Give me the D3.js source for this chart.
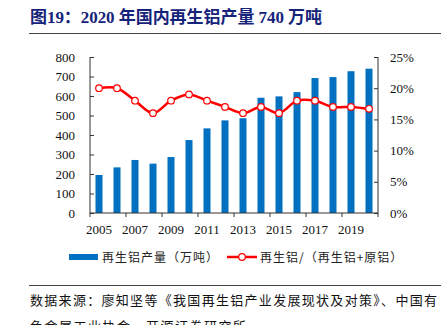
<!DOCTYPE html>
<html>
<head>
<meta charset="utf-8">
<script src="https://cdn.jsdelivr.net/npm/d3@7"></script>
<style>
  body { margin: 0; background: #fff; }
  svg { display: block; }
</style>
</head>
<body>
<svg width="446" height="325"></svg>
<script>
// yearly output of recycled aluminium (10k t) and its share of total aluminium (%)
const years = d3.range(2005, 2021);
const output = [195, 234, 272, 253, 287, 374, 434, 475, 486, 591, 598, 620, 692, 697, 727, 740];
const share = [20, 20, 18, 16, 18, 19, 18, 17, 16, 17, 16, 18, 18, 17, 17, 16.7];
const leftTicks = d3.range(0, 801, 100);
const rightTicks = [0, 5, 10, 15, 20, 25];
const labelYears = [2005, 2007, 2009, 2011, 2013, 2015, 2017, 2019];

const svg = d3.select("svg");
const serif = "'Liberation Serif', 'Times New Roman', 'Noto Sans CJK SC', serif";
const cjk = "'Noto Sans CJK SC', sans-serif";

const plot = { left: 90, right: 378, top: 57, bottom: 213 };

const x = d3.scaleBand().domain(years).range([plot.left, plot.right]);
const yL = d3.scaleLinear().domain([0, 800]).range([plot.bottom, plot.top]);
const yR = d3.scaleLinear().domain([0, 25]).range([plot.bottom, plot.top]);

// title + rules
svg.append("text")
    .attr("x", 30).attr("y", 23)
    .attr("font-family", serif)
    .attr("font-weight", "bold")
    .attr("font-size", 17)
    .attr("fill", "#16237a")
    .attr("textLength", 292).attr("lengthAdjust", "spacing")
    .text("图19：2020 年国内再生铝产量 740 万吨");

svg.append("line").attr("x1", 29).attr("x2", 441).attr("y1", 33.5).attr("y2", 33.5)
    .attr("stroke", "#444").attr("stroke-width", 1);
svg.append("line").attr("x1", 29).attr("x2", 441).attr("y1", 285.5).attr("y2", 285.5)
    .attr("stroke", "#444").attr("stroke-width", 1);

// bars
const barW = 7;
svg.append("g")
    .attr("fill", "#0070c0")
    .selectAll("rect")
    .data(output)
    .join("rect")
    .attr("x", (d, i) => x(years[i]) + x.bandwidth() / 2 - barW / 2)
    .attr("width", barW)
    .attr("y", d => yL(d))
    .attr("height", d => yL(0) - yL(d));

// axes
const leftAxis = svg.append("g")
    .attr("transform", `translate(${plot.left},0)`)
    .call(d3.axisRight(yL).tickValues(leftTicks).tickSize(4).tickFormat(""));

const rightAxis = svg.append("g")
    .attr("transform", `translate(${plot.right},0)`)
    .call(d3.axisLeft(yR).tickValues(rightTicks).tickSize(4).tickFormat(""));

const bottom = svg.append("g")
    .attr("transform", `translate(0,${plot.bottom})`);
bottom.append("line")
    .attr("x1", plot.left).attr("x2", plot.right)
    .attr("stroke", "#333");
bottom.selectAll("line.tick")
    .data(d3.range(0, years.length + 1, 2))
    .join("line")
    .attr("class", "tick")
    .attr("x1", i => plot.left + i * x.step())
    .attr("x2", i => plot.left + i * x.step())
    .attr("y1", 0).attr("y2", 4)
    .attr("stroke", "#333");

svg.selectAll(".domain, .tick line").attr("stroke", "#333");
// plain vertical axis lines, no end caps
svg.selectAll(".domain").attr("d", `M0,${plot.top}V${plot.bottom}`);

// tick labels
svg.append("g")
    .attr("font-family", serif).attr("font-size", 13).attr("fill", "#111")
    .attr("text-anchor", "end")
    .selectAll("text").data(leftTicks).join("text")
    .attr("x", 75).attr("y", d => yL(d) + 4.5)
    .text(d => d);

svg.append("g")
    .attr("font-family", serif).attr("font-size", 13).attr("fill", "#111")
    .selectAll("text").data(rightTicks).join("text")
    .attr("x", 390).attr("y", d => yR(d) + 4.5)
    .text(d => d + "%");

svg.append("g")
    .attr("font-family", serif).attr("font-size", 13).attr("fill", "#111")
    .attr("text-anchor", "middle")
    .selectAll("text").data(labelYears).join("text")
    .attr("x", d => x(d) + x.bandwidth() / 2).attr("y", 234)
    .text(d => d);

// share line
const line = d3.line()
    .x((d, i) => x(years[i]) + x.bandwidth() / 2)
    .y(d => yR(d))
    .curve(d3.curveCatmullRom.alpha(0.5));

svg.append("path")
    .datum(share)
    .attr("fill", "none")
    .attr("stroke", "#ff0000")
    .attr("stroke-width", 2.5)
    .attr("d", line);

svg.append("g")
    .selectAll("circle").data(share).join("circle")
    .attr("cx", (d, i) => x(years[i]) + x.bandwidth() / 2)
    .attr("cy", d => yR(d))
    .attr("r", 3.3)
    .attr("fill", "#fff")
    .attr("stroke", "#ff0000")
    .attr("stroke-width", 1.2);

// legend
const legend = svg.append("g").attr("font-family", cjk).attr("font-size", 12).attr("fill", "#222");
legend.append("rect").attr("x", 69).attr("y", 254).attr("width", 29).attr("height", 6).attr("fill", "#0070c0");
legend.append("text").attr("x", 102).attr("y", 261.5).attr("letter-spacing", 1).text("再生铝产量（万吨）");
legend.append("line").attr("x1", 227).attr("x2", 257).attr("y1", 257).attr("y2", 257)
    .attr("stroke", "#ff0000").attr("stroke-width", 2.5);
legend.append("circle").attr("cx", 242).attr("cy", 257).attr("r", 3.3)
    .attr("fill", "#fff").attr("stroke", "#ff0000").attr("stroke-width", 1.2);
legend.append("text").attr("x", 260).attr("y", 261.5).attr("letter-spacing", 1).text("再生铝/（再生铝+原铝）");

// source note, second line runs past the bottom edge
const note = svg.append("g").attr("font-family", cjk).attr("font-size", 13).attr("fill", "#111");
note.append("text").attr("x", 30).attr("y", 305)
    .attr("textLength", 407).attr("lengthAdjust", "spacing")
    .text("数据来源：廖知坚等《我国再生铝产业发展现状及对策》、中国有");
note.append("text").attr("x", 30).attr("y", 331)
    .attr("letter-spacing", 1.5)
    .text("色金属工业协会、开源证券研究所");
</script>
</body>
</html>
